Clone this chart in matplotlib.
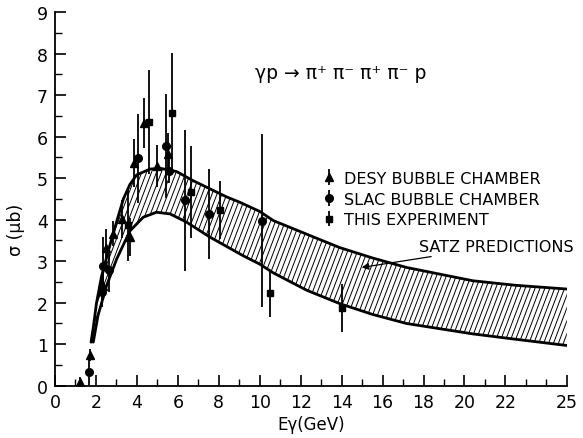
import numpy as np
import matplotlib
matplotlib.use("Agg")
import matplotlib.pyplot as plt
from matplotlib.path import Path
from matplotlib.patches import PathPatch

plt.rcParams['font.family'] = ['DejaVu Sans']
plt.rcParams['mathtext.fontset'] = 'dejavusans'

# ---- data ----
desy_x = [1.22, 1.71, 2.36, 2.49, 2.85, 3.29, 3.66, 3.86, 4.34, 4.96, 5.53]
desy_y = [0.08, 0.74, 2.41, 3.33, 3.66, 4.02, 3.58, 5.37, 6.33, 5.30, 5.58]
desy_err = [0.12, 0.15, 0.25, 0.45, 0.3, 0.45, 0.45, 0.58, 0.6, 0.5, 0.5]

slac_x = [1.67, 2.31, 2.36, 2.64, 4.04, 5.42, 5.58, 6.35, 7.53, 10.09]
slac_y = [0.32, 2.25, 2.89, 2.80, 5.48, 5.78, 5.18, 4.47, 4.14, 3.98]
slac_err = [0.3, 0.35, 0.7, 0.55, 1.07, 1.25, 0.3, 1.7, 1.08, 2.09]

this_x = [3.58, 4.60, 5.71, 6.62, 8.06, 10.50, 14.03]
this_y = [3.87, 6.36, 6.56, 4.67, 4.24, 2.23, 1.87]
this_err = [0.87, 1.25, 1.45, 1.1, 0.7, 0.57, 0.58]

upper_x = [1.76, 1.87, 2.03, 2.28, 2.69, 3.01, 3.34, 3.66, 3.99, 4.64, 5.13,
           5.94, 6.75, 8.38, 9.03, 10.0, 10.66, 12.45, 13.9, 15.5, 17.17,
           20.4, 22.5, 25.0]
upper_y = [1.05, 1.40, 2.00, 2.65, 3.40, 3.95, 4.50, 4.85, 5.08, 5.22, 5.24,
           5.16, 4.94, 4.55, 4.42, 4.20, 3.98, 3.62, 3.33, 3.08, 2.85,
           2.53, 2.42, 2.33]
lower_x = [1.87, 2.10, 2.52, 3.01, 3.66, 4.31, 4.96, 5.62, 6.43, 7.57, 9.2,
           10.0, 10.66, 12.3, 13.9, 15.5, 17.17, 20.4, 22.5, 25.0]
lower_y = [1.05, 1.69, 2.41, 3.05, 3.73, 4.06, 4.18, 4.14, 3.94, 3.58, 3.13,
           2.93, 2.72, 2.30, 1.98, 1.72, 1.50, 1.25, 1.12, 0.97]

xtick_major = [0, 2, 4, 6, 8, 10, 12, 14, 16, 18, 20, 22, 25]
xtick_labels = ['0', '2', '4', '6', '8', '10', '12', '14', '16', '18', '20', '22', '25']
ytick_major = [0, 1, 2, 3, 4, 5, 6, 7, 8, 9]

legend_labels = ['DESY BUBBLE CHAMBER', 'SLAC BUBBLE CHAMBER', 'THIS EXPERIMENT']
band_label = 'SATZ PREDICTIONS'
reaction = 'γp → π⁺ π⁻ π⁺ π⁻ p'

# ---- figure ----
fig = plt.figure(figsize=(5.83, 4.39), dpi=100)
ax = fig.add_axes([0.0943, 0.119, 0.878, 0.851])
ax.set_xlim(0, 25)
ax.set_ylim(0, 9)

for s in ['top', 'right']:
    ax.spines[s].set_visible(False)
for s in ['left', 'bottom']:
    ax.spines[s].set_linewidth(1.3)

ax.set_xticks(xtick_major)
ax.set_xticklabels(xtick_labels)
ax.set_xticks(np.arange(0, 26, 1), minor=True)
ax.set_yticks(ytick_major)
ax.set_yticks(np.arange(0, 9.01, 0.5), minor=True)
ax.tick_params(which='major', direction='in', length=8, width=1.2, labelsize=12.5, pad=5)
ax.tick_params(which='minor', direction='in', length=5, width=1.0)

# band
verts = list(zip(upper_x, upper_y)) + list(zip(lower_x[::-1], lower_y[::-1]))
codes = [Path.MOVETO] + [Path.LINETO] * (len(verts) - 1)
band_path = Path(verts, codes)
patch = PathPatch(band_path, facecolor='none', edgecolor='none')
ax.add_patch(patch)
# steep hatch lines clipped to the band
slope = 1.3
for x0 in np.arange(-5, 26, 0.24):
    ln, = ax.plot([x0, x0 + 8], [0, 8 * slope], color='black', lw=0.7)
    ln.set_clip_path(patch)
ax.plot(upper_x, upper_y, color='black', lw=2.0, solid_capstyle='round')
ax.plot(lower_x, lower_y, color='black', lw=2.0, solid_capstyle='round')

# data
ekw = dict(color='black', ecolor='black', elinewidth=1.3, capsize=0, linestyle='none')
h1 = ax.errorbar(desy_x, desy_y, yerr=desy_err, fmt='^', ms=5.5, **ekw)
h2 = ax.errorbar(slac_x, slac_y, yerr=slac_err, fmt='o', ms=5.5, **ekw)
h3 = ax.errorbar(this_x, this_y, yerr=this_err, fmt='s', ms=5, **ekw)

leg = ax.legend([h1, h2, h3], legend_labels, loc='upper left',
                bbox_to_anchor=(0.505, 0.605), frameon=False, fontsize=11.5,
                handlelength=0.6, handletextpad=0.6, labelspacing=0.35,
                borderpad=0.2)

ax.annotate(band_label, xy=(14.98, 2.85), xytext=(17.8, 3.36),
            fontsize=11.5, va='center', ha='left',
            arrowprops=dict(arrowstyle='-|>', color='black', lw=0.9,
                            shrinkA=0, shrinkB=0, mutation_scale=10))

ax.text(9.77, 7.55, reaction, fontsize=13.5, va='center', ha='left')

ax.set_xlabel('Eγ(GeV)', fontsize=12, labelpad=3)
ax.set_ylabel('σ (μb)', fontsize=12.5)
ax.yaxis.set_label_coords(-0.058, 0.42)

fig.savefig('out.png', dpi=100)
